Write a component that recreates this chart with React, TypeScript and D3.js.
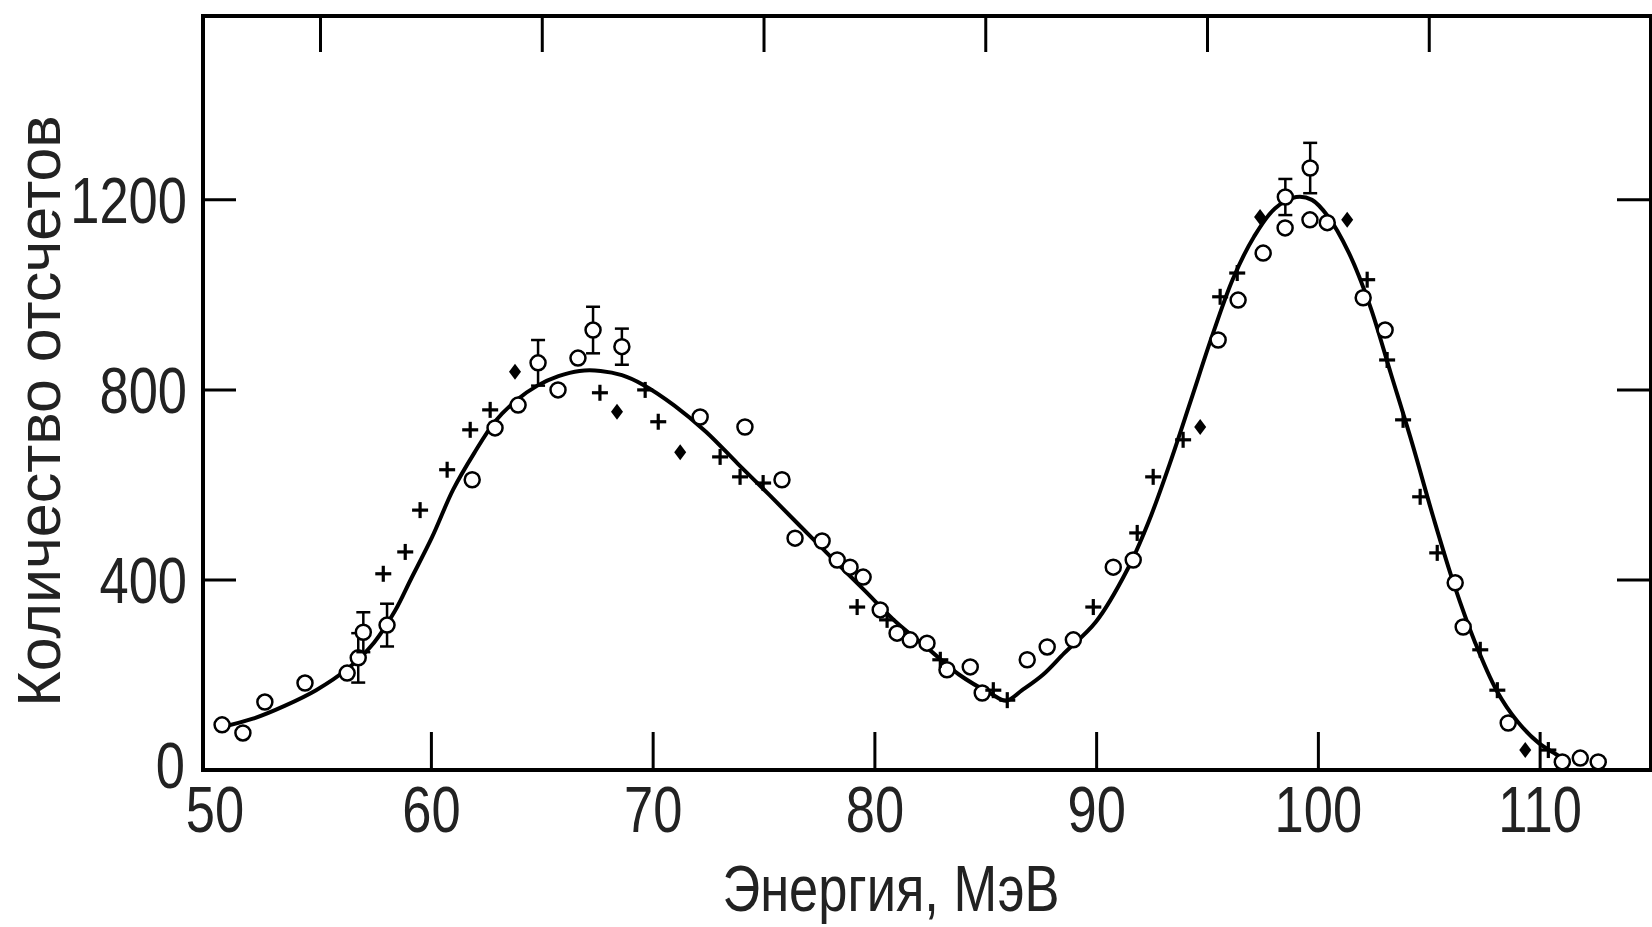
import React from 'react';
import * as d3 from 'd3';

const W = 1652;
const H = 927;

// fitted curve (energy MeV, counts)
const curveE = [50.52, 51.95, 53.38, 54.8, 56.22, 57.41, 58.36, 59.07, 60.03, 60.98, 61.93, 62.88, 63.83, 64.78, 65.73, 66.68, 67.63, 68.59, 69.54, 70.96, 72.38, 73.81, 75.24, 76.66, 78.09, 79.51, 80.94, 82.36, 83.79, 85.22, 85.93, 86.64, 87.59, 88.54, 89.97, 91.4, 92.35, 93.3, 94.25, 95.19, 96.14, 97.09, 98.04, 99.0, 99.71, 100.42, 101.37, 102.32, 103.27, 104.22, 105.17, 106.12, 107.07, 108.03, 108.98, 109.93, 110.88, 111.3];
const curveN = [90, 108, 135, 168, 213, 268, 335, 401, 490, 590, 667, 734, 778, 809, 829, 840, 840, 831, 811, 767, 712, 645, 579, 512, 445, 379, 312, 257, 201, 161, 146, 168, 201, 246, 312, 423, 523, 645, 778, 911, 1033, 1122, 1182, 1206, 1200, 1166, 1089, 978, 834, 689, 534, 390, 268, 168, 102, 57, 28, 12];

// open circles
const circleE = [50.56, 51.5, 52.49, 54.3, 56.2, 61.84, 62.87, 63.91, 65.71, 66.61, 72.12, 74.14, 75.81, 76.4, 77.62, 78.3, 78.88, 79.47, 80.24, 81.0, 81.59, 82.35, 83.25, 84.3, 84.84, 86.87, 87.77, 88.95, 90.75, 91.65, 95.48, 96.38, 97.51, 98.5, 99.62, 100.4, 102.02, 103.01, 106.17, 106.53, 108.56, 111.0, 111.81, 112.62];
const circleN = [95, 78, 143, 183, 204, 611, 720, 768, 800, 867, 743, 722, 611, 488, 482, 442, 427, 406, 337, 288, 274, 267, 211, 217, 162, 232, 259, 274, 427, 442, 905, 989, 1088, 1141, 1158, 1152, 994, 926, 394, 301, 99, 17, 25, 17];

// circles with error bars
const errE = [56.7, 56.93, 58.0, 64.81, 67.29, 68.59, 98.51, 99.63];
const errN = [236, 290, 305, 857, 926, 891, 1206, 1267];
const errD = [52, 42, 45, 48, 49, 38, 38, 53];

// crosses
const plusE = [57.83, 58.82, 59.49, 60.71, 61.75, 62.65, 67.6, 69.64, 70.23, 73.02, 73.92, 74.96, 79.2, 80.55, 82.95, 85.34, 85.97, 89.85, 91.83, 92.55, 93.9, 95.57, 96.34, 102.2, 103.1, 103.82, 104.59, 105.36, 107.3, 108.07, 110.37];
const plusN = [413, 459, 547, 632, 716, 758, 794, 800, 733, 659, 617, 604, 343, 316, 232, 168, 147, 343, 499, 617, 695, 996, 1046, 1032, 863, 737, 575, 457, 253, 168, 42];

// filled diamonds
const diamondE = [63.77, 68.37, 71.22, 94.67, 97.37, 101.3, 109.33];
const diamondN = [838, 754, 669, 722, 1164, 1158, 42];

const xTicks = [50, 60, 70, 80, 90, 100, 110];
const xTopTicks = [55, 65, 75, 85, 95, 105];
const yTicks = [0, 400, 800, 1200];

const xTitle = 'Энергия, МэВ';
const yTitle = 'Количество отсчетов';

const font = '"Liberation Sans", Arial, sans-serif';

export default function App() {
  const x = d3.scaleLinear().domain([49.7, 115]).range([203, 1651]);
  const y = d3.scaleLinear().domain([0, 1587]).range([770, 16]);
  const [x0, x1] = x.range();
  const [y0, y1] = y.range();

  const curve = d3
    .line<number>()
    .x((d, i) => x(curveE[i]))
    .y((d) => y(d))
    .curve(d3.curveCatmullRom.alpha(0.5));

  return (
    <svg width={W} height={H} style={{ position: 'absolute', left: 0, top: 0, background: '#fff' }}>
      {/* fitted curve */}
      <path d={curve(curveN) || ''} fill="none" stroke="#000" strokeWidth={4} />

      {/* error bars */}
      {errE.map((e, i) => {
        const cx = x(e);
        const top = y(errN[i] + errD[i]);
        const bot = y(errN[i] - errD[i]);
        return (
          <g key={'e' + i} stroke="#000" strokeWidth={2.5}>
            <line x1={cx} x2={cx} y1={top} y2={bot} />
            <line x1={cx - 7} x2={cx + 7} y1={top} y2={top} />
            <line x1={cx - 7} x2={cx + 7} y1={bot} y2={bot} />
            <circle cx={cx} cy={y(errN[i])} r={7.5} fill="#fff" />
          </g>
        );
      })}

      {/* open circles */}
      {circleE.map((e, i) => (
        <circle key={'c' + i} cx={x(e)} cy={y(circleN[i])} r={7.5} fill="#fff" stroke="#000" strokeWidth={2.5} />
      ))}

      {/* crosses */}
      {plusE.map((e, i) => {
        const cx = x(e);
        const cy = y(plusN[i]);
        return (
          <g key={'p' + i} stroke="#000" strokeWidth={3.2}>
            <line x1={cx - 8} x2={cx + 8} y1={cy} y2={cy} />
            <line x1={cx} x2={cx} y1={cy - 8} y2={cy + 8} />
          </g>
        );
      })}

      {/* diamonds */}
      {diamondE.map((e, i) => {
        const cx = x(e);
        const cy = y(diamondN[i]);
        return (
          <path
            key={'d' + i}
            d={`M${cx},${cy - 8}L${cx + 6},${cy}L${cx},${cy + 8}L${cx - 6},${cy}Z`}
            fill="#000"
          />
        );
      })}

      {/* frame */}
      <rect x={x0} y={y1} width={x1 - x0} height={y0 - y1} fill="none" stroke="#000" strokeWidth={4} />

      {/* ticks */}
      <g stroke="#000" strokeWidth={3}>
        {xTicks.slice(1).map((t) => (
          <line key={'xb' + t} x1={x(t)} x2={x(t)} y1={y0} y2={y0 - 38} />
        ))}
        {xTopTicks.map((t) => (
          <line key={'xt' + t} x1={x(t)} x2={x(t)} y1={y1} y2={y1 + 36} />
        ))}
        {yTicks.slice(1).map((t) => (
          <g key={'y' + t}>
            <line x1={x0} x2={x0 + 33} y1={y(t)} y2={y(t)} />
            <line x1={x1} x2={x1 - 34} y1={y(t)} y2={y(t)} />
          </g>
        ))}
      </g>

      {/* tick labels */}
      <g fontFamily={font} fontSize={64} fill="#222">
        {xTicks.map((t) => (
          <text
            key={'xl' + t}
            transform={`translate(${Math.max(x(t), x0 + 12)},${832}) scale(0.82,1)`}
            textAnchor="middle"
          >
            {t}
          </text>
        ))}
        {yTicks.map((t) => (
          <text
            key={'yl' + t}
            transform={`translate(${t === 0 ? 185 : 187},${y(t) + (t === 0 ? 18 : 23)}) scale(0.82,1)`}
            textAnchor="end"
          >
            {t}
          </text>
        ))}
        <text transform={`translate(${891},${911}) scale(0.82,1)`} textAnchor="middle">
          {xTitle}
        </text>
        <text
          transform={`translate(${60},${(y0 + y1) / 2 + 18}) rotate(-90)`}
          textAnchor="middle"
          fontSize={61}
        >
          {yTitle}
        </text>
      </g>
    </svg>
  );
}
